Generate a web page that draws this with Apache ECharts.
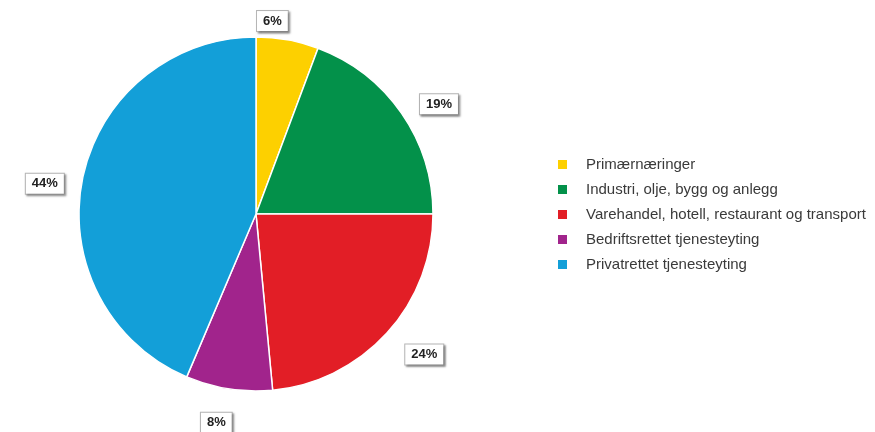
<!DOCTYPE html>
<html>
<head>
<meta charset="utf-8">
<script src="https://cdn.jsdelivr.net/npm/echarts@6/dist/echarts.min.js"></script>
<style>html,body{margin:0;padding:0;background:#fff}#c{width:875px;height:432px}</style>
</head>
<body>
<div id="c"></div>
<script>
var categories = ['Primærnæringer', 'Industri, olje, bygg og anlegg', 'Varehandel, hotell, restaurant og transport', 'Bedriftsrettet tjenesteyting', 'Privatrettet tjenesteyting'];
var values = [5.7, 19.3, 23.5, 7.9, 43.6];
var labelTexts = ['6%', '19%', '24%', '8%', '44%'];
var colors = ['#FDD000', '#03914A', '#E21E26', '#A1248C', '#139FD8'];
// label nudges (style only)
var labelNudge = [[-42, -5], [-2, -1], [-1, 12], [14, 20], [4, 8]];

var chart = echarts.init(document.getElementById('c'), null, {renderer: 'canvas'});
chart.setOption({
  animation: false,
  backgroundColor: '#fff',
  legend: {
    orient: 'vertical',
    left: 551,
    top: 151,
    itemWidth: 11,
    itemHeight: 11,
    itemGap: 8,
    icon: 'rect',
    textStyle: {fontFamily: 'Liberation Sans, Arial', fontSize: 15, lineHeight: 17, color: '#3a3a3a', padding: [0,0,0,13]},
    data: categories
  },
  series: [{
    type: 'pie',
    center: [256, 214],
    radius: [0, 177],
    startAngle: 90,
    clockwise: true,
    avoidLabelOverlap: false,
    itemStyle: {borderColor: '#fff', borderWidth: 1.5},
    label: {
      show: true,
      position: 'outside',
      formatter: function (p) { return labelTexts[p.dataIndex]; },
      fontFamily: 'Liberation Sans, Arial',
      fontWeight: 'bold',
      fontSize: 13,
      color: '#222',
      backgroundColor: '#fff',
      borderColor: '#b5b5b5',
      borderWidth: 1,
      padding: [4, 6, 3, 6],
      shadowColor: 'rgba(0,0,0,0.35)',
      shadowBlur: 2,
      shadowOffsetX: 1.5,
      shadowOffsetY: 1.5
    },
    labelLine: {show: false, length: 14, length2: 4},
    labelLayout: function (p) {
      var n = labelNudge[p.dataIndex];
      return {dx: n[0], dy: n[1]};
    },
    data: categories.map(function (c, i) {
      return {name: c, value: values[i], itemStyle: {color: colors[i]}};
    })
  }]
});
</script>
</body>
</html>
